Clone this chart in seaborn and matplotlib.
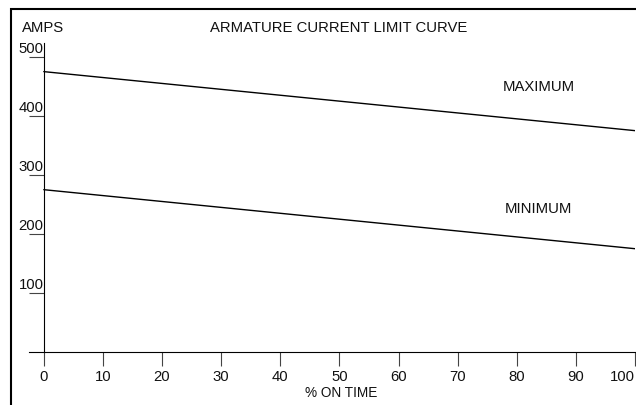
import pandas as pd
import matplotlib
matplotlib.use('Agg')
import matplotlib.pyplot as plt
import seaborn as sns
from matplotlib.patches import Rectangle

# Datos
pct_on_time = [0, 100]
max_amps = [475, 375]
min_amps = [275, 175]
x_ticks = [0, 10, 20, 30, 40, 50, 60, 70, 80, 90, 100]
y_ticks = [100, 200, 300, 400, 500]

sns.set_theme(style='white')
plt.rcParams['font.family'] = ['Liberation Sans', 'DejaVu Sans']

FS = 10.7
TXT = '#111111'

df = pd.DataFrame({'pct': pct_on_time, 'max': max_amps, 'min': min_amps})

fig = plt.figure(figsize=(6.36, 4.05), dpi=100)
ax = fig.add_axes([29 / 636, 1 - 352 / 405, (635 - 29) / 636, (352 - 42.7) / 405])

sns.lineplot(data=df, x='pct', y='max', ax=ax, color='black', linewidth=1)
sns.lineplot(data=df, x='pct', y='min', ax=ax, color='black', linewidth=1)

ax.set_xlim(-2.5, 100)
ax.set_ylim(0, 524)

# Ejes tipo dibujo técnico
for s in ['top', 'right']:
    ax.spines[s].set_visible(False)
ax.spines['left'].set_position(('data', 0))
for s in ['left', 'bottom']:
    ax.spines[s].set_color('black')
    ax.spines[s].set_linewidth(0.8)

ax.set_xticks(x_ticks)
ax.set_xticklabels([str(t) for t in x_ticks], fontsize=FS)
ax.tick_params(axis='x', direction='out', length=10, width=0.8, color='#444444',
               pad=3, labelcolor=TXT, bottom=True)
ax.get_xticklabels()[-1].set_horizontalalignment('right')

ax.set_yticks(y_ticks)
ax.set_yticklabels([])
ax.tick_params(axis='y', direction='out', length=10.5, width=0.8, color='#444444', left=True)
for t in y_ticks:
    ax.text(-0.05, t + 1, str(t), ha='right', va='bottom', fontsize=FS, color=TXT)

ax.set_xlabel('% ON TIME', fontsize=9.8, color=TXT)
ax.xaxis.set_label_coords((341 - 29) / 606, -34 / 309.3)
ax.set_ylabel('')

# Textos
fig.text(22 / 636, 1 - 28 / 405, 'AMPS', fontsize=FS, va='center', ha='left', color=TXT)
fig.text(339 / 636, 1 - 28 / 405, 'ARMATURE CURRENT LIMIT CURVE', fontsize=FS,
         va='center', ha='center', color=TXT)
ax.text(83.7, 500 - (87 - 57) / 59 * 100, 'MAXIMUM', fontsize=FS, ha='center', va='center',
        color=TXT)
ax.text(83.6, 500 - (209 - 57) / 59 * 100, 'MINIMUM', fontsize=FS, ha='center', va='center',
        color=TXT)

# Marco exterior
fig.add_artist(Rectangle((11 / 636, -0.5), 2, 0.5 + 1 - 8.5 / 405, transform=fig.transFigure,
                         fill=False, lw=1.5, edgecolor='black'))

fig.savefig('out.png', dpi=100)
